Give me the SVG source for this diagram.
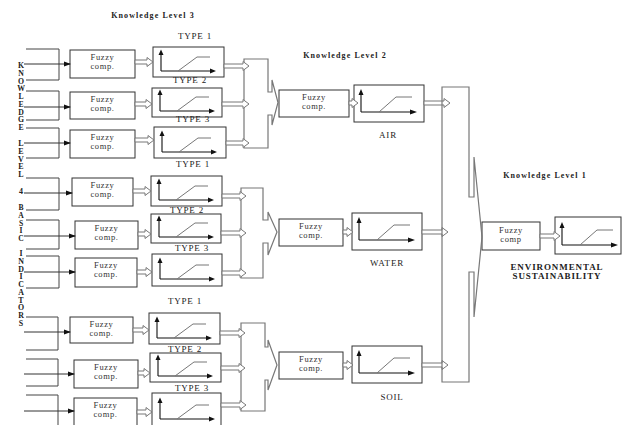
<svg xmlns="http://www.w3.org/2000/svg" xmlns:xlink="http://www.w3.org/1999/xlink" width="624" height="425" viewBox="0 0 624 425">
<style>
text{font-family:"Liberation Serif","Times New Roman",serif;fill:#222}
.box{fill:#fff;stroke:#333;stroke-width:1}
.fz{font-size:8.5px;letter-spacing:0.6px;text-anchor:middle;fill:#333}
.ty{font-size:9px;letter-spacing:0.8px;text-anchor:middle}
.kl{font-size:8px;font-weight:bold;letter-spacing:1.1px;text-anchor:middle}
.big{font-size:9px;font-weight:bold;letter-spacing:0.9px;text-anchor:middle}
.vl{font-weight:bold;writing-mode:vertical-rl;text-orientation:upright;letter-spacing:-1.25px}
.axis{fill:none;stroke:#111;stroke-width:1.1}
.head{fill:#111;stroke:none}
.ramp{fill:none;stroke:#777;stroke-width:1}
.hol{fill:#fff;stroke:#777;stroke-width:1}
.comb{fill:none;stroke:#777;stroke-width:1.2}
.br{fill:none;stroke:#444;stroke-width:1}
.in{stroke:#333;stroke-width:1;marker-end:url(#ah)}
</style>
<defs>
<marker id="ah" markerWidth="7" markerHeight="6" refX="6" refY="3" orient="auto" markerUnits="userSpaceOnUse"><path d="M0,0.5 L7,3 L0,5.5Z" fill="#111"/></marker>
<g id="plotS">
<path class="axis" d="M8,24 V7 M8,24 H58"/>
<path class="head" d="M5.5,8 L8,2.5 L10.5,8Z M57,21.5 L63,24 L57,26.5Z"/>
<path class="ramp" d="M25,24 L44,10 H57"/>
</g>
<g id="plotL">
<path class="axis" d="M7,27 V9 M7,27 H56"/>
<path class="head" d="M4.5,10 L7,4 L9.5,10Z M56,24.5 L63,27 L56,29.5Z"/>
<path class="ramp" d="M25,27 L42,12 H58"/>
</g>
</defs>
<rect width="624" height="425" fill="#fff"/>

<g id="titles">
<text class="kl" x="153" y="18">Knowledge Level 3</text>
<text class="kl" x="345" y="58">Knowledge Level 2</text>
<text class="kl" x="545" y="178">Knowledge Level 1</text>
</g>

<g id="side-label">
<text class="vl" x="21" y="61" font-size="7.75">KNOWLEDGE</text>
<text class="vl" x="21" y="139" font-size="8">LEVEL</text>
<text class="vl" x="21" y="187" font-size="8">4</text>
<text class="vl" x="21" y="203" font-size="7.6">BASIC</text>
<text class="vl" x="21" y="249" font-size="7.9">INDICATORS</text>
</g>

<!-- Level 3 fuzzy boxes -->
<g id="fA1"><rect class="box" x="70" y="50" width="65" height="28"/><text class="fz" x="102.5" y="60">Fuzzy</text><text class="fz" x="102.5" y="69">comp.</text></g>
<g id="fA2"><rect class="box" x="70" y="92" width="65" height="27"/><text class="fz" x="102.5" y="102">Fuzzy</text><text class="fz" x="102.5" y="111">comp.</text></g>
<g id="fA3"><rect class="box" x="70" y="130" width="65" height="28"/><text class="fz" x="102.5" y="140">Fuzzy</text><text class="fz" x="102.5" y="149">comp.</text></g>
<g id="fB1"><rect class="box" x="72" y="178" width="61" height="28"/><text class="fz" x="102.5" y="188">Fuzzy</text><text class="fz" x="102.5" y="197">comp.</text></g>
<g id="fB2"><rect class="box" x="75" y="221" width="63" height="28"/><text class="fz" x="106.5" y="231">Fuzzy</text><text class="fz" x="106.5" y="240">comp.</text></g>
<g id="fB3"><rect class="box" x="75" y="258" width="62" height="29"/><text class="fz" x="106" y="268">Fuzzy</text><text class="fz" x="106" y="277">comp.</text></g>
<g id="fC1"><rect class="box" x="70" y="317" width="63" height="26"/><text class="fz" x="101.5" y="327">Fuzzy</text><text class="fz" x="101.5" y="336">comp.</text></g>
<g id="fC2"><rect class="box" x="74" y="360" width="64" height="28"/><text class="fz" x="106" y="370">Fuzzy</text><text class="fz" x="106" y="379">comp.</text></g>
<g id="fC3"><rect class="box" x="74" y="398" width="63" height="30"/><text class="fz" x="105.5" y="408">Fuzzy</text><text class="fz" x="105.5" y="417">comp.</text></g>

<!-- Level 3 type boxes -->
<g id="tA1"><text class="ty" x="195" y="39">TYPE 1</text><rect class="box" x="153" y="47" width="71" height="30"/><use xlink:href="#plotS" x="153" y="47"/></g>
<g id="tA2"><text class="ty" x="190" y="83">TYPE 2</text><rect class="box" x="152" y="88" width="70" height="29"/><use xlink:href="#plotS" x="152" y="87"/></g>
<g id="tA3"><text class="ty" x="193" y="122">TYPE 3</text><rect class="box" x="154" y="127" width="72" height="31"/><use xlink:href="#plotS" x="154" y="128"/></g>
<g id="tB1"><text class="ty" x="193" y="167">TYPE 1</text><rect class="box" x="151" y="176" width="71" height="30"/><use xlink:href="#plotS" x="151" y="176"/></g>
<g id="tB2"><text class="ty" x="187" y="213">TYPE 2</text><rect class="box" x="151" y="214" width="70" height="29"/><use xlink:href="#plotS" x="151" y="213"/></g>
<g id="tB3"><text class="ty" x="192" y="251">TYPE 3</text><rect class="box" x="152" y="254" width="70" height="32"/><use xlink:href="#plotS" x="152" y="255"/></g>
<g id="tC1"><text class="ty" x="185" y="304">TYPE 1</text><rect class="box" x="149" y="313" width="71" height="31"/><use xlink:href="#plotS" x="149" y="314"/></g>
<g id="tC2"><text class="ty" x="185" y="352">TYPE 2</text><rect class="box" x="150" y="353" width="71" height="29"/><use xlink:href="#plotS" x="150" y="352"/></g>
<g id="tC3"><text class="ty" x="192" y="391">TYPE 3</text><rect class="box" x="152" y="393" width="69" height="35"/><use xlink:href="#plotS" x="152" y="395"/></g>

<!-- Level 2 -->
<g id="fAir"><rect class="box" x="279" y="90" width="70" height="27"/><text class="fz" x="314" y="100">Fuzzy</text><text class="fz" x="314" y="109">comp.</text></g>
<g id="fWater"><rect class="box" x="279" y="219" width="64" height="27"/><text class="fz" x="311" y="229">Fuzzy</text><text class="fz" x="311" y="238">comp.</text></g>
<g id="fSoil"><rect class="box" x="279" y="352" width="64" height="27"/><text class="fz" x="311" y="362">Fuzzy</text><text class="fz" x="311" y="371">comp.</text></g>
<g id="tAir"><rect class="box" x="354" y="85" width="70" height="37"/><use xlink:href="#plotL" x="354" y="85"/><text class="ty" x="388" y="138">AIR</text></g>
<g id="tWater"><rect class="box" x="352" y="213" width="70" height="37"/><use xlink:href="#plotL" x="352" y="213"/><text class="ty" x="387" y="266">WATER</text></g>
<g id="tSoil"><rect class="box" x="352" y="346" width="70" height="37"/><use xlink:href="#plotL" x="352" y="346"/><text class="ty" x="392" y="400">SOIL</text></g>

<!-- Level 1 -->
<g id="fEnv"><rect class="box" x="482" y="222" width="58" height="28"/><text class="fz" x="511" y="233">Fuzzy</text><text class="fz" x="511" y="242">comp</text></g>
<g id="tEnv"><rect class="box" x="555" y="217" width="66" height="37"/><use xlink:href="#plotL" x="555" y="218"/><text class="big" x="557" y="270">ENVIRONMENTAL</text><text class="big" x="557" y="279">SUSTAINABILITY</text></g>

<g id="connectors">
<path class="br" d="M26,49 H59 V80 H26 M26,91 H59 V120 H26 M26,128 H59 V158 H26 M26,178 H59 V210 H26 M26,220 H59 V249 H26 M26,256 H59 V288 H26 M26,317 H58 V350 H26 M26,359 H58 V386 H26 M26,395 H58 V430"/>
<line class="in" x1="24" y1="64" x2="70" y2="64"/>
<line class="in" x1="24" y1="107" x2="70" y2="107"/>
<line class="in" x1="24" y1="143" x2="70" y2="143"/>
<line class="in" x1="24" y1="193" x2="72" y2="193"/>
<line class="in" x1="24" y1="236" x2="75" y2="236"/>
<line class="in" x1="24" y1="272" x2="75" y2="272"/>
<line class="in" x1="24" y1="332" x2="70" y2="332"/>
<line class="in" x1="24" y1="374" x2="74" y2="374"/>
<line class="in" x1="24" y1="411" x2="74" y2="411"/>
<path class="hol" d="M135,60 H147 V57.5 L153,62 L147,66.5 V64 H135Z"/>
<path class="hol" d="M135,102 H146 V99.5 L152,104 L146,108.5 V106 H135Z"/>
<path class="hol" d="M135,138 H148 V135.5 L154,140 L148,144.5 V142 H135Z"/>
<path class="hol" d="M133,189 H145 V186.5 L151,191 L145,195.5 V193 H133Z"/>
<path class="hol" d="M138,232 H145 V229.5 L151,234 L145,238.5 V236 H138Z"/>
<path class="hol" d="M137,270 H146 V267.5 L152,272 L146,276.5 V274 H137Z"/>
<path class="hol" d="M133,328 H143 V325.5 L149,330 L143,334.5 V332 H133Z"/>
<path class="hol" d="M138,371 H144 V368.5 L150,373 L144,377.5 V375 H138Z"/>
<path class="hol" d="M137,410 H146 V407.5 L152,412 L146,416.5 V414 H137Z"/>
<path class="comb" d="M244,59 H268 V92 H272 V80 L278,102.5 L272,125 V115 H268 V148 H244 Z"/>
<path class="comb" d="M241,188 H263 V220 H268 V212 L277,232 L268,255 V243 H263 V278 H241 Z"/>
<path class="comb" d="M241,323 H265 V347 H268 V340 L277,365 L268,390 V380 H265 V411 H241 Z"/>
<path class="hol" d="M224,64 H243 V61.5 L249,66 L243,70.5 V68 H224Z"/>
<path class="hol" d="M222,102 H243 V99.5 L249,104 L243,108.5 V106 H222Z"/>
<path class="hol" d="M226,141 H243 V138.5 L249,143 L243,147.5 V145 H226Z"/>
<path class="hol" d="M222,194 H240 V191.5 L246,196 L240,200.5 V198 H222Z"/>
<path class="hol" d="M221,231 H240 V228.5 L246,233 L240,237.5 V235 H221Z"/>
<path class="hol" d="M222,271 H240 V268.5 L246,273 L240,277.5 V275 H222Z"/>
<path class="hol" d="M220,331 H239 V328.5 L245,333 L239,337.5 V335 H220Z"/>
<path class="hol" d="M221,366 H239 V363.5 L245,368 L239,372.5 V370 H221Z"/>
<path class="hol" d="M221,403 H240 V400.5 L246,405 L240,409.5 V407 H221Z"/>
<path class="hol" d="M349,101 H352 V98.5 L358,103 L352,107.5 V105 H349Z"/>
<path class="hol" d="M343,230 H347 V227.5 L353,232 L347,236.5 V234 H343Z"/>
<path class="hol" d="M343,363 H347 V360.5 L353,365 L347,369.5 V367 H343Z"/>
<path class="hol" d="M424,101 H444 V98.5 L450,103 L444,107.5 V105 H424Z"/>
<path class="hol" d="M422,230 H442 V227.5 L448,232 L442,236.5 V234 H422Z"/>
<path class="hol" d="M422,363 H442 V360.5 L448,365 L442,369.5 V367 H422Z"/>
<path class="comb" d="M442,87 H469 V197 H474 V157 L482,237 L474,317 V272 H469 V382 H442 Z"/>
<path class="hol" d="M540,234 H554 V231.5 L560,236 L554,240.5 V238 H540Z"/>
</g>
</svg>
